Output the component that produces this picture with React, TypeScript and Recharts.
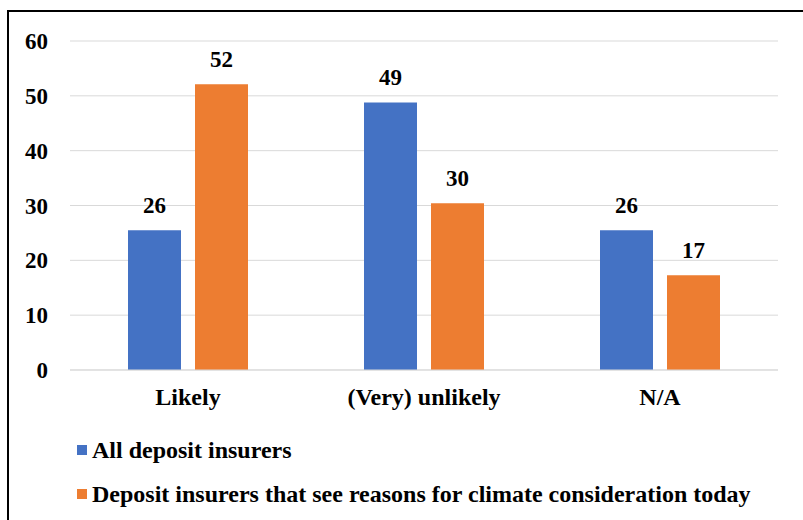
import React from "react";
import { BarChart, Bar, XAxis, YAxis, CartesianGrid, LabelList } from "recharts";

const categories = ["Likely", "(Very) unlikely", "N/A"];
const allInsurers = [25.5, 48.8, 25.5];
const climateInsurers = [52.1, 30.4, 17.3];
const yTicks = [0, 10, 20, 30, 40, 50, 60];

const seriesNames = [
  "All deposit insurers",
  "Deposit insurers that see reasons for climate consideration today",
];
const BLUE = "#4472C4";
const ORANGE = "#ED7D31";
const GRID = "#D9D9D9";
const FONT = "Liberation Serif";

const data = categories.map((name, i) => ({
  name,
  all: allInsurers[i],
  climate: climateInsurers[i],
}));

const numStyle = { fontFamily: FONT, fontWeight: 700, fontSize: 23, fill: "#000" };
const catStyle = { fontFamily: FONT, fontWeight: 700, fontSize: 24, fill: "#000" };

export default function App() {
  return (
    <div
      style={{
        position: "absolute",
        left: 0,
        top: 0,
        width: 803,
        height: 520,
        overflow: "hidden",
        background: "#fff",
        fontFamily: FONT,
      }}
    >
      {/* outer frame, only top and left edges show in the crop */}
      <div
        style={{
          position: "absolute",
          left: 7,
          top: 10,
          width: 820,
          height: 530,
          borderTop: "2px solid #000",
          borderLeft: "2px solid #000",
        }}
      />
      <div style={{ position: "absolute", left: 0, top: 0 }}>
        <BarChart
          width={803}
          height={520}
          data={data}
          margin={{ top: 41, right: 25, left: 0, bottom: 110 }}
          barSize={53}
          barGap={14}
        >
          <CartesianGrid vertical={false} stroke={GRID} strokeWidth={1} />
          <XAxis
            dataKey="name"
            height={40}
            axisLine={{ stroke: GRID }}
            tickLine={false}
            tickSize={6}
            tickMargin={12}
            tick={catStyle}
            interval={0}
          />
          <YAxis
            width={70}
            domain={[0, 60]}
            ticks={yTicks}
            axisLine={false}
            tickLine={false}
            tickSize={6}
            tickMargin={16}
            tick={numStyle}
          />
          <Bar dataKey="all" fill={BLUE} isAnimationActive={false}>
            <LabelList
              dataKey="all"
              position="top"
              offset={17}
              formatter={(v: any) => Math.round(Number(v))}
              fontFamily={FONT}
              fontWeight={700}
              fontSize={23}
              fill="#000"
            />
          </Bar>
          <Bar dataKey="climate" fill={ORANGE} isAnimationActive={false}>
            <LabelList
              dataKey="climate"
              position="top"
              offset={17}
              formatter={(v: any) => Math.round(Number(v))}
              fontFamily={FONT}
              fontWeight={700}
              fontSize={23}
              fill="#000"
            />
          </Bar>
        </BarChart>
      </div>
      {/* legend */}
      {seriesNames.map((name, i) => (
        <div
          key={name}
          style={{
            position: "absolute",
            left: 77,
            top: 437 + i * 44,
            height: 26,
            display: "flex",
            alignItems: "center",
            fontFamily: FONT,
            fontWeight: 700,
            fontSize: 24,
            color: "#000",
            whiteSpace: "nowrap",
          }}
        >
          <span
            style={{
              display: "inline-block",
              width: 10,
              height: 10,
              background: i === 0 ? BLUE : ORANGE,
              marginRight: 5,
            }}
          />
          {name}
        </div>
      ))}
    </div>
  );
}
